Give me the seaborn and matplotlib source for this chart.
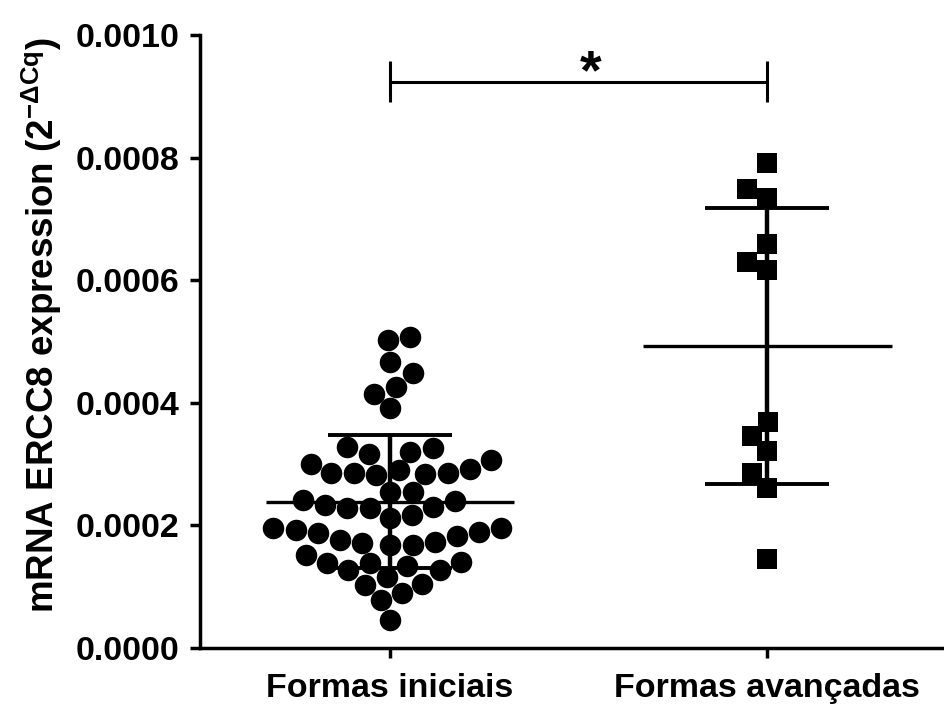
import matplotlib
matplotlib.use("Agg")
import matplotlib.pyplot as plt
import numpy as np
import pandas as pd
import seaborn as sns

# Group names (x categories)
groups = ["Formas iniciais", "Formas avançadas"]

# ERCC8 expression values per group (2^-ΔCq)
iniciais = [
    0.000508, 0.000502, 0.000467, 0.000448, 0.000425, 0.000415, 0.000391,
    0.000328, 0.000326, 0.000320, 0.000316, 0.000307, 0.000300, 0.000292,
    0.000290, 0.000285, 0.000285, 0.000285, 0.000284, 0.000283,
    0.000255, 0.000255, 0.000241, 0.000239, 0.000233, 0.000230, 0.000228,
    0.000228, 0.000217, 0.000212,
    0.000195, 0.000195, 0.000192, 0.000190, 0.000187, 0.000182, 0.000176,
    0.000173, 0.000171, 0.000168, 0.000168, 0.000152,
    0.000141, 0.000138, 0.000138, 0.000133, 0.000127, 0.000127,
    0.000116, 0.000105, 0.000103, 0.000090, 0.000078, 0.000046,
]
avancadas = [
    0.000791, 0.000748, 0.000734, 0.000659, 0.000630, 0.000617,
    0.000369, 0.000346, 0.000321, 0.000285, 0.000261, 0.000146,
]

# Axis ticks
y_ticks = [0.0, 0.0002, 0.0004, 0.0006, 0.0008, 0.0010]
y_tick_labels = ["0.0000", "0.0002", "0.0004", "0.0006", "0.0008", "0.0010"]

# Significance annotation between the two groups
sig_label = "*"
sig_height = 0.000924

sns.set_style("ticks")
plt.rcParams["font.family"] = ["Liberation Sans", "DejaVu Sans"]
plt.rcParams["font.weight"] = "bold"
plt.rcParams["mathtext.fontset"] = "custom"
plt.rcParams["mathtext.rm"] = "Liberation Sans:bold"
plt.rcParams["mathtext.it"] = "Liberation Sans:italic:bold"
plt.rcParams["mathtext.bf"] = "Liberation Sans:bold"

df = pd.DataFrame({
    "group": [groups[0]] * len(iniciais) + [groups[1]] * len(avancadas),
    "value": iniciais + avancadas,
})

fig = plt.figure(figsize=(9.44, 7.05), dpi=100)
ax = fig.add_axes([200 / 944, 57 / 705, 744 / 944, 613 / 705])

markers = ["o", "s"]
sizes = [15.5, 15.0]
for g, m, s in zip(groups, markers, sizes):
    sns.swarmplot(
        data=df[df["group"] == g], x="group", y="value", order=groups,
        marker=m, size=s, color="black", linewidth=0, ax=ax, zorder=2,
    )

# Mean and SD lines
stats = df.groupby("group", sort=False)["value"].agg(["mean", "std"])
for i, g in enumerate(groups):
    mu, sd = stats.loc[g, "mean"], stats.loc[g, "std"]
    ax.hlines(mu, i - 0.33, i + 0.33, color="black", lw=2.4, zorder=3)
    ax.hlines([mu - sd, mu + sd], i - 0.165, i + 0.165, color="black", lw=2.8, zorder=3)
    ax.vlines(i, mu - sd, mu + sd, color="black", lw=3.2, zorder=3)

# Significance bracket
cap = 0.000033
ax.hlines(sig_height, 0, 1, color="black", lw=2.2, clip_on=False)
ax.vlines([0, 1], sig_height - cap, sig_height + cap, color="black", lw=2.2, clip_on=False)
ax.text(0.533, sig_height + 0.000012, sig_label, ha="center", va="center",
        fontsize=40, fontweight="bold", color="black")

ax.set_xlim(-0.504, 1.469)
ax.set_ylim(0, 0.001)
ax.set_yticks(y_ticks)
ax.set_yticklabels(y_tick_labels)
ax.set_xlabel("")
ax.set_ylabel(r"mRNA ERCC8 expression (2$^{-\Delta\mathrm{Cq}}$)",
              fontsize=26.5, fontweight="bold", va="center", color="black")
ax.yaxis.set_label_coords(-0.212, 0.527)

ax.tick_params(axis="both", length=7, width=2.5, labelsize=24.5, color="black",
               labelcolor="black")
ax.tick_params(axis="x", pad=11)
ax.tick_params(axis="y", pad=8)
for lab in ax.get_xticklabels() + ax.get_yticklabels():
    lab.set_fontweight("bold")

sns.despine(ax=ax)
for side in ["left", "bottom"]:
    ax.spines[side].set_linewidth(2.5)
    ax.spines[side].set_color("black")

fig.savefig("out.png", dpi=100)
